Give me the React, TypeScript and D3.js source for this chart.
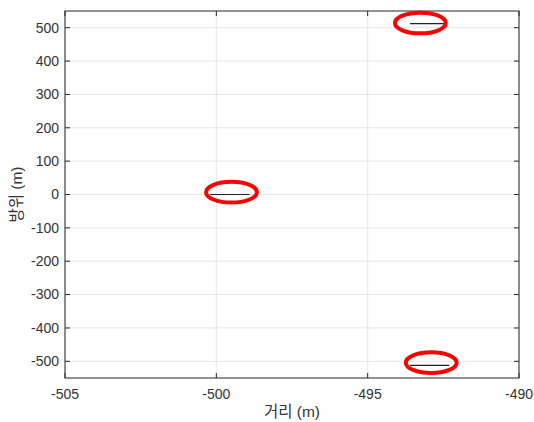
import React from "react";
import * as d3 from "d3";

// tick values
const xTicks = [-505, -500, -495, -490];
const yTicks = [-500, -400, -300, -200, -100, 0, 100, 200, 300, 400, 500];

// short target segments (start x, end x, y)
const segX0 = [-500.2, -493.6, -493.6];
const segX1 = [-498.9, -492.4, -492.3];
const segY = [0, 512, -512];

// red marker ellipses (centre x, centre y)
const ringX = [-499.5, -493.26, -492.9];
const ringY = [7, 514, -504];
const ringRx = 0.84;
const ringRy = 31;

const W = 534;
const H = 422;
const margin = { top: 11, right: 15, bottom: 44, left: 65 };

const App = () => {
  const x = d3.scaleLinear().domain([-505, -490]).range([margin.left, W - margin.right]);
  const y = d3.scaleLinear().domain([-550, 550]).range([H - margin.bottom, margin.top]);
  const [x0, x1] = x.range();
  const [yb, yt] = y.range();
  const axisColor = "#262626";
  const textColor = "#333";
  const gridColor = "#e6e6e6";
  const font = "'Liberation Sans', Arial, 'Noto Sans CJK KR', sans-serif";
  const tickLen = 5;

  return (
    <svg width={W} height={H} style={{ position: "absolute", left: 0, top: 0, background: "#fff" }}>
      {/* grid */}
      {xTicks.map(t => (
        <line key={"gx" + t} x1={x(t)} x2={x(t)} y1={yt} y2={yb} stroke={gridColor} strokeWidth={1} />
      ))}
      {yTicks.map(t => (
        <line key={"gy" + t} x1={x0} x2={x1} y1={y(t)} y2={y(t)} stroke={gridColor} strokeWidth={1} />
      ))}

      {/* segments */}
      {segY.map((v, i) => (
        <line key={"s" + i} x1={x(segX0[i])} x2={x(segX1[i])} y1={y(v)} y2={y(v)} stroke="#222" strokeWidth={1.2} />
      ))}

      {/* box */}
      <rect x={x0} y={yt} width={x1 - x0} height={yb - yt} fill="none" stroke={axisColor} strokeWidth={1} />

      {/* ticks */}
      {xTicks.map(t => (
        <g key={"tx" + t}>
          <line x1={x(t)} x2={x(t)} y1={yb} y2={yb - tickLen} stroke={axisColor} />
          <line x1={x(t)} x2={x(t)} y1={yt} y2={yt + tickLen} stroke={axisColor} />
          <text x={x(t)} y={yb + 21} textAnchor="middle" fontFamily={font} fontSize={14} fill={textColor}>
            {t}
          </text>
        </g>
      ))}
      {yTicks.map(t => (
        <g key={"ty" + t}>
          <line x1={x0} x2={x0 + tickLen} y1={y(t)} y2={y(t)} stroke={axisColor} />
          <line x1={x1} x2={x1 - tickLen} y1={y(t)} y2={y(t)} stroke={axisColor} />
          <text x={x0 - 6} y={y(t)} dy="0.35em" textAnchor="end" fontFamily={font} fontSize={14} fill={textColor}>
            {t}
          </text>
        </g>
      ))}

      {/* rings */}
      {ringX.map((cx, i) => (
        <ellipse
          key={"r" + i}
          cx={x(cx)}
          cy={y(ringY[i])}
          rx={x(cx + ringRx) - x(cx)}
          ry={y(0) - y(ringRy)}
          fill="none"
          stroke="#ff0000"
          strokeWidth={4}
        />
      ))}

      {/* axis labels */}
      <text x={(x0 + x1) / 2} y={H - 5} textAnchor="middle" fontFamily={font} fontSize={15.5} fill={textColor}>
        거리 (m)
      </text>
      <text
        transform={`translate(22, ${(yt + yb) / 2}) rotate(-90)`}
        textAnchor="middle"
        fontFamily={font}
        fontSize={15.5}
        fill={textColor}
      >
        방위 (m)
      </text>
    </svg>
  );
};

export default App;
